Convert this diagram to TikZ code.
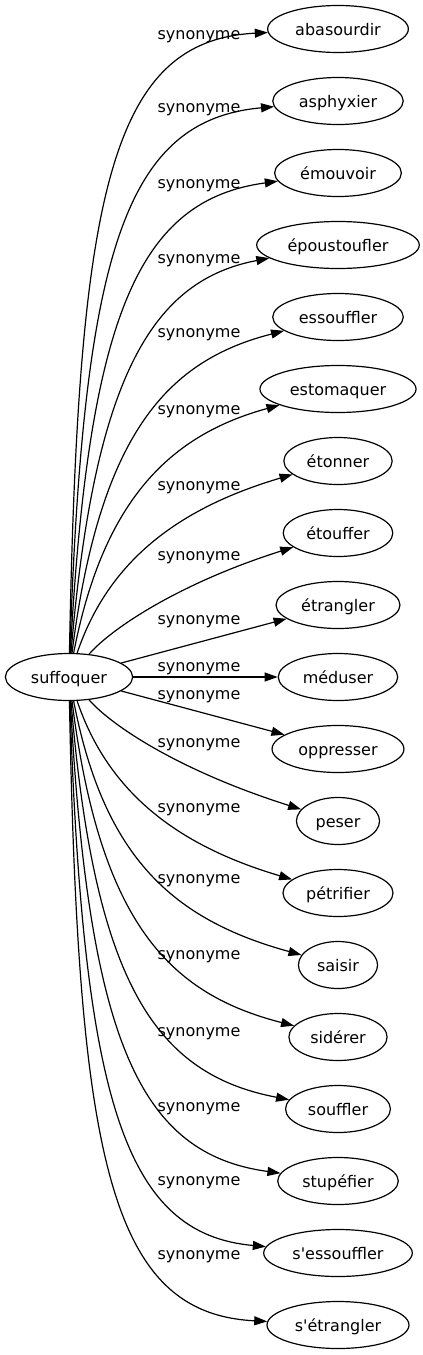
\documentclass[tikz,border=0pt]{standalone}
\usepackage{fontspec}
\newfontfamily\dv{DejaVu Sans}
\usetikzlibrary{arrows.meta,shapes.geometric}
\begin{document}
\begin{tikzpicture}[x=1pt,y=-1pt]
\tikzset{
  wnode/.style={draw, ellipse, line width=1.2pt, inner xsep=7pt, inner ysep=2pt,
    minimum height=47pt, text height=16pt, text depth=3.5pt,
    font=\dv\fontsize{16}{19}\selectfont},
  lbl/.style={anchor=base, inner sep=0pt, font=\dv\fontsize{16}{19}\selectfont},
  edgeln/.style={line width=1.2pt, -{Triangle[length=13pt,width=9pt]}}
}
\useasboundingbox (0,0) rectangle (423,1355);
\node[wnode] (src) at (69,677) {suffoquer};
\node[wnode] (t1) at (338,29) {abasourdir};
\node[wnode] (t2) at (338,101) {asphyxier};
\node[wnode] (t3) at (338,173) {émouvoir};
\node[wnode] (t4) at (338,245) {époustoufler};
\node[wnode] (t5) at (338,317) {essouffler};
\node[wnode] (t6) at (338,389) {estomaquer};
\node[wnode] (t7) at (338,461) {étonner};
\node[wnode] (t8) at (338,533) {étouffer};
\node[wnode] (t9) at (338,605) {étrangler};
\node[wnode] (t10) at (338,677) {méduser};
\node[wnode] (t11) at (338,749) {oppresser};
\node[wnode] (t12) at (338,821) {peser};
\node[wnode] (t13) at (338,893) {pétrifier};
\node[wnode] (t14) at (338,965) {saisir};
\node[wnode] (t15) at (338,1037) {sidérer};
\node[wnode] (t16) at (338,1109) {souffler};
\node[wnode] (t17) at (338,1181) {stupéfier};
\node[wnode] (t18) at (338,1253) {s'essouffler};
\node[wnode] (t19) at (338,1325) {s'étrangler};
% labels
\node[lbl] (l1) at (199,39) {synonyme};
\node[lbl] (l2) at (199,112.5) {synonyme};
\node[lbl] (l3) at (199,188) {synonyme};
\node[lbl] (l4) at (199,263.5) {synonyme};
\node[lbl] (l5) at (199,337.5) {synonyme};
\node[lbl] (l6) at (199,414.5) {synonyme};
\node[lbl] (l7) at (199,490.5) {synonyme};
\node[lbl] (l8) at (199,560.5) {synonyme};
\node[lbl] (l9) at (199,624.5) {synonyme};
\node[lbl] (l10) at (199,671.5) {synonyme};
\node[lbl] (l11) at (199,699.5) {synonyme};
\node[lbl] (l12) at (199,747.5) {synonyme};
\node[lbl] (l13) at (199,812.5) {synonyme};
\node[lbl] (l14) at (199,883.5) {synonyme};
\node[lbl] (l15) at (199,959.5) {synonyme};
\node[lbl] (l16) at (199,1036.5) {synonyme};
\node[lbl] (l17) at (199,1111.5) {synonyme};
\node[lbl] (l18) at (199,1185.5) {synonyme};
\node[lbl] (l19) at (199,1259.5) {synonyme};
% edges
\draw[edgeln] (src) .. controls (78,195) and (110,40.5) .. (t1);
\draw[edgeln] (src) .. controls (83.2,254.4) and (124.2,120) .. (t2);
\draw[edgeln] (src) .. controls (88.8,313) and (139.5,200) .. (t3);
\draw[edgeln] (src) .. controls (94.4,371.5) and (154.8,280) .. (t4);
\draw[edgeln] (src) .. controls (100,430) and (170,360) .. (t5);
\draw[edgeln] (src) .. controls (104,496) and (173.3,434.3) .. (t6);
\draw[edgeln] (src) .. controls (108,562) and (176.7,508.7) .. (t7);
\draw[edgeln] (src) .. controls (112,628) and (180,583) .. (t8);
\draw[edgeln] (src) -- (t9);
\draw[edgeln] (src) -- (t10);
\draw[edgeln] (src) -- (t11);
\draw[edgeln] (src) .. controls (112,726) and (180,771) .. (t12);
\draw[edgeln] (src) .. controls (108,792) and (176.7,845.3) .. (t13);
\draw[edgeln] (src) .. controls (104,858) and (173.3,919.7) .. (t14);
\draw[edgeln] (src) .. controls (100,924) and (170,994) .. (t15);
\draw[edgeln] (src) .. controls (94.4,982.5) and (154.8,1074) .. (t16);
\draw[edgeln] (src) .. controls (88.8,1041) and (139.5,1154) .. (t17);
\draw[edgeln] (src) .. controls (83.2,1099.6) and (124.2,1234) .. (t18);
\draw[edgeln] (src) .. controls (78,1159) and (110,1313.5) .. (t19);
\end{tikzpicture}
\end{document}
